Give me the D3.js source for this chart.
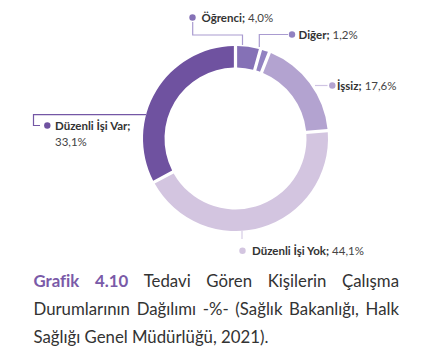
<!DOCTYPE html>
<html><head><meta charset="utf-8">
<script src="https://cdn.jsdelivr.net/npm/d3@7"></script>
<style>body{margin:0;background:#fff}svg{display:block}text{font-variant-ligatures:none;font-feature-settings:"liga" 0}</style>
</head><body>
<svg id="c" width="428" height="358"></svg>
<script>
const categories = ["Öğrenci", "Diğer", "İşsiz", "Düzenli İşi Yok", "Düzenli İşi Var"];
const values = [4.0, 1.2, 17.6, 44.1, 33.1];
const valueLabels = ["4,0%", "1,2%", "17,6%", "44,1%", "33,1%"];
const colors = ["#8571b6", "#9282c1", "#b3a3d0", "#d3c5e0", "#6f52a0"];
const lineColors = ["#a99bd0", "#a99bd0", "#cfc4e3", "#d6cbe5", "#7457a5"];
const captionBold = "Grafik 4.10";
const captionLines = ["Tedavi Gören Kişilerin Çalışma", "Durumlarının Dağılımı -%- (Sağlık Bakanlığı, Halk", "Sağlığı Genel Müdürlüğü, 2021)."];

const svg = d3.select("#c");
const cx = 235.5, cy = 138.5, R = 92.5, r0 = 71;
const data = categories.map((c, i) => ({c, v: values[i], lab: valueLabels[i], col: colors[i], lc: lineColors[i]}));
const pie = d3.pie().value(d => d.v).sort(null).startAngle(0).endAngle(2 * Math.PI).padAngle(0.028);
const arc = d3.arc().innerRadius(r0).outerRadius(R);
const g = svg.append("g").attr("transform", `translate(${cx},${cy})`);
const arcs = pie(data);
g.selectAll("path").data(arcs).join("path").attr("d", arc).attr("fill", d => d.data.col);

// label layout (annotation positions)
const layout = [
  {pts: [[192.7, 22], [192.7, 35], [242.5, 35], [242.5, 45]], dot: [192.5, 17.5], tx: 201.5, ty: 22, two: false},
  {pts: [[288, 34.5], [259.3, 34.5], [259.3, 47]], dot: [292, 34.5], tx: 298.5, ty: 38.8, two: false},
  {pts: [[315, 85.5], [327.5, 85.5]], dot: [332.3, 85.5], tx: 337, ty: 89.8, two: false},
  {pts: [[242, 231], [242, 239]], dot: [242.5, 250.7], tx: 252, ty: 255, two: false},
  {pts: [[146, 114.7], [33.5, 114.7], [33.5, 125.5], [40, 125.5]], dot: [47.3, 125.5], tx: 55, ty: 129.5, two: true}
];
const font = "Lato, 'Open Sans', sans-serif";
arcs.forEach((a, i) => {
  const L = layout[i];
  svg.append("path").attr("d", d3.line()(L.pts)).attr("fill", "none")
    .attr("stroke", a.data.lc).attr("stroke-width", 1.2);
  svg.append("circle").attr("cx", L.dot[0]).attr("cy", L.dot[1]).attr("r", 3.2).attr("fill", a.data.col);
  const t = svg.append("text").attr("x", L.tx).attr("y", L.ty)
    .attr("font-family", font).attr("font-size", 11.5).attr("fill", "#333");
  t.append("tspan").attr("font-weight", "bold").text(a.data.c + ";");
  if (L.two) {
    svg.append("text").attr("x", L.tx).attr("y", L.ty + 16).attr("font-family", font)
      .attr("font-size", 11.5).attr("fill", "#444").text(a.data.lab);
  } else {
    t.append("tspan").attr("fill", "#444").text(" " + a.data.lab);
  }
});

// caption, justified
const capX0 = 33.5, capX1 = 399, baseY = [286.7, 314.8, 342.7];
const capFont = 16.8;
function drawLine(words, y, justify) {
  const items = words.map(w => {
    const t = svg.append("text").attr("y", y).attr("font-family", font).attr("font-size", capFont)
      .attr("fill", w.bold ? "#7a5aa8" : "#333").attr("font-weight", w.bold ? "bold" : "normal").text(w.s);
    return {t, w: t.node().getComputedTextLength()};
  });
  const total = d3.sum(items, d => d.w);
  const spaceNat = capFont * 0.25;
  const gap = justify ? (capX1 - capX0 - total) / (items.length - 1) : spaceNat;
  let x = capX0;
  items.forEach(it => { it.t.attr("x", x); x += it.w + gap; });
}
const line1 = captionBold.split(" ").map(s => ({s, bold: true})).concat(captionLines[0].split(" ").map(s => ({s, bold: false})));
drawLine(line1, baseY[0], true);
drawLine(captionLines[1].split(" ").map(s => ({s})), baseY[1], true);
drawLine(captionLines[2].split(" ").map(s => ({s})), baseY[2], false);
</script>
</body></html>
